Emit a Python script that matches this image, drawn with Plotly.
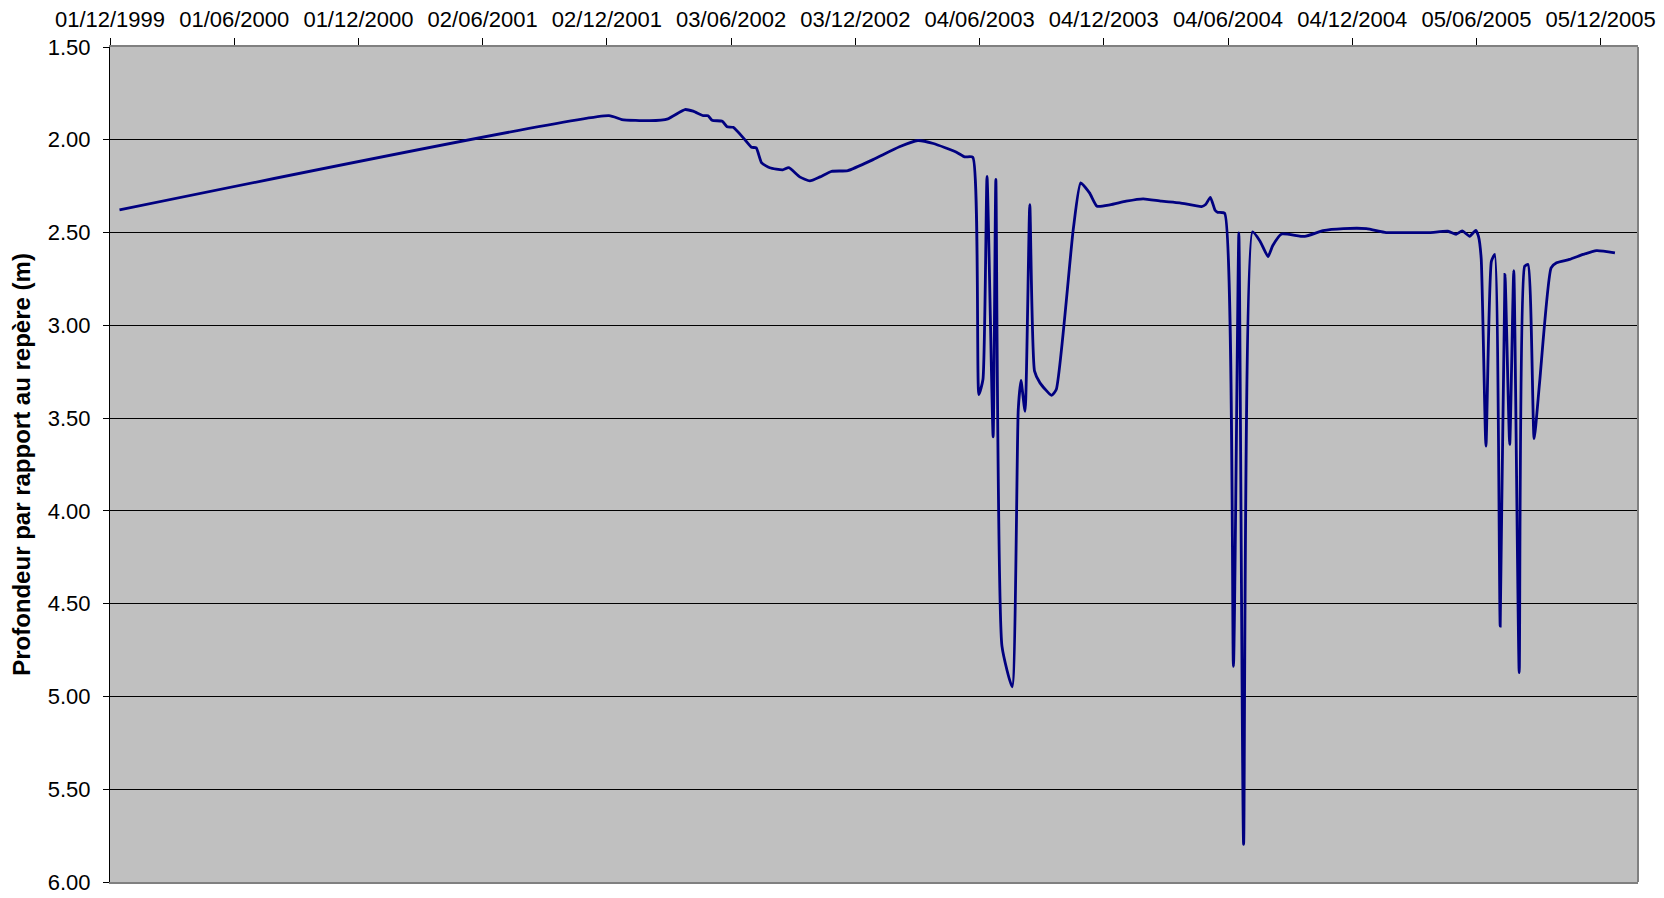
import plotly.graph_objects as go

# water depth readings (m below reference mark)
dates = [
    "1999-12-15", "2001-12-05", "2001-12-24", "2002-02-03", "2002-03-02",
    "2002-03-27", "2002-04-08", "2002-04-23", "2002-04-30", "2002-05-06",
    "2002-05-21", "2002-05-28", "2002-06-06", "2002-06-21", "2002-07-03",
    "2002-07-10", "2002-07-18", "2002-07-30", "2002-08-18", "2002-08-27",
    "2002-09-12", "2002-09-27", "2002-10-12", "2002-10-29", "2002-11-22",
    "2002-12-29", "2003-02-06", "2003-03-05", "2003-03-28", "2003-05-01",
    "2003-05-13", "2003-05-25", "2003-06-03", "2003-06-09", "2003-06-15",
    "2003-06-24", "2003-06-28", "2003-07-07", "2003-07-22", "2003-07-31",
    "2003-08-04", "2003-08-10", "2003-08-17", "2003-08-24", "2003-09-01",
    "2003-09-18", "2003-09-25", "2003-10-20", "2003-10-31", "2003-11-13",
    "2003-11-24", "2003-12-13", "2004-01-06", "2004-01-31", "2004-02-27",
    "2004-03-25", "2004-04-26", "2004-05-02", "2004-05-09", "2004-05-16",
    "2004-05-20", "2004-05-30", "2004-06-12", "2004-06-20", "2004-06-27",
    "2004-07-10", "2004-07-21", "2004-08-02", "2004-08-09", "2004-08-22",
    "2004-09-25", "2004-10-22", "2004-11-21", "2004-12-25", "2005-01-23",
    "2005-02-27", "2005-03-28", "2005-04-24", "2005-05-06", "2005-05-15",
    "2005-05-26", "2005-06-04", "2005-06-08", "2005-06-12", "2005-06-19",
    "2005-06-27", "2005-07-02", "2005-07-10", "2005-07-17", "2005-07-24",
    "2005-07-30", "2005-08-07", "2005-08-15", "2005-08-20", "2005-08-29",
    "2005-09-06", "2005-09-23", "2005-10-01", "2005-10-20", "2005-11-09",
    "2005-11-29", "2005-12-26",
]
depth = [
    2.378, 1.870, 1.891, 1.897, 1.887,
    1.837, 1.846, 1.870, 1.870, 1.895,
    1.900, 1.930, 1.933, 1.990, 2.040,
    2.044, 2.125, 2.151, 2.162, 2.150,
    2.200, 2.222, 2.200, 2.170, 2.166,
    2.107, 2.038, 2.004, 2.020, 2.067,
    2.092, 2.094, 3.373, 3.292, 2.197,
    3.601, 2.214, 4.729, 4.948, 3.454,
    3.297, 3.463, 2.349, 3.247, 3.310,
    3.377, 3.346, 2.484, 2.232, 2.286,
    2.358, 2.351, 2.331, 2.318, 2.331,
    2.340, 2.360, 2.349, 2.310, 2.380,
    2.391, 2.396, 4.838, 2.502, 5.797,
    2.497, 2.545, 2.629, 2.570, 2.508,
    2.521, 2.490, 2.479, 2.479, 2.500,
    2.500, 2.500, 2.493, 2.509, 2.491,
    2.520, 2.488, 2.520, 2.640, 3.651,
    2.655, 2.618, 4.621, 2.726, 3.642,
    2.705, 4.872, 2.682, 2.672, 3.611,
    3.310, 2.690, 2.663, 2.645, 2.618,
    2.597, 2.609,
]

x_tickvals = [
    "1999-12-01", "2000-06-01", "2000-12-01", "2001-06-02", "2001-12-02",
    "2002-06-03", "2002-12-03", "2003-06-04", "2003-12-04", "2004-06-04",
    "2004-12-04", "2005-06-05", "2005-12-05",
]
x_ticktext = [
    "01/12/1999", "01/06/2000", "01/12/2000", "02/06/2001", "02/12/2001",
    "03/06/2002", "03/12/2002", "04/06/2003", "04/12/2003", "04/06/2004",
    "04/12/2004", "05/06/2005", "05/12/2005",
]
y_tickvals = [1.5, 2.0, 2.5, 3.0, 3.5, 4.0, 4.5, 5.0, 5.5, 6.0]

fig = go.Figure()
fig.add_trace(go.Scatter(
    x=dates, y=depth, mode="lines",
    line=dict(color="#000080", width=2.8, shape="spline", smoothing=0.5),
    showlegend=False,
))

# page body adds an 8px offset, margins compensate for it
fig.update_layout(
    width=1664, height=898,
    margin=dict(l=102, r=34, t=39, b=24),
    paper_bgcolor="white",
    plot_bgcolor="#C0C0C0",
    font=dict(family="Liberation Sans, Arial", size=22, color="black"),
    xaxis=dict(
        side="top", type="date", automargin=False,
        range=["1999-12-01", "2006-01-29"],
        tickmode="array", tickvals=x_tickvals, ticktext=x_ticktext,
        ticks="outside", ticklen=7, tickcolor="black",
        ticklabelstandoff=2,
        showgrid=False, zeroline=False,
        showline=True, linecolor="#808080", linewidth=2, mirror=True,
    ),
    yaxis=dict(
        range=[6.0, 1.5], autorange=False, automargin=False,
        tickmode="array", tickvals=y_tickvals, tickformat=".2f",
        ticks="outside", ticklen=6, tickcolor="black",
        ticklabelstandoff=8,
        showgrid=True, gridcolor="black", gridwidth=1,
        zeroline=False,
        showline=True, linecolor="black", linewidth=1,
        title=dict(text="<b>Profondeur par rapport au repère (m)</b>",
                   font=dict(size=24), standoff=12),
    ),
    shapes=[dict(type="line", xref="paper", yref="paper", x0=1, x1=1, y0=0, y1=1,
                 line=dict(color="#808080", width=2))],
)

fig.write_html("out.html")
